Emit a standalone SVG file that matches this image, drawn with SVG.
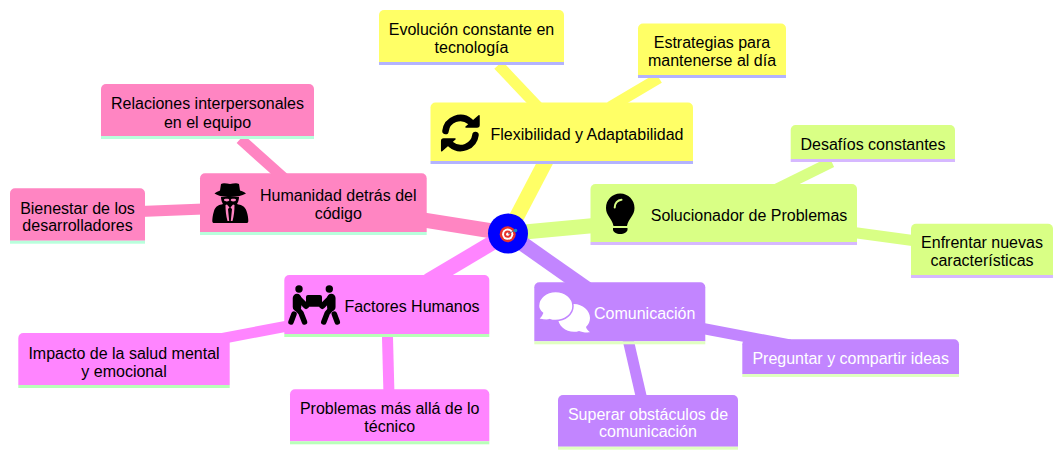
<svg xmlns="http://www.w3.org/2000/svg" width="1063" height="458" viewBox="0 0 1063 458">
<style>
text{font-family:"Liberation Sans",Arial,sans-serif;font-size:16px;text-anchor:middle;fill:#000}
.w text,text.w{fill:#fff}
.c line{stroke-linecap:butt;fill:none}
.m{stroke-width:15}.s{stroke-width:11}
.y{fill:#ffff66}.g{fill:#d9ff85}.p{fill:#ff85c2}.f{fill:#ff85ff}.v{fill:#c285ff}
.ys{stroke:#ffff66}.gs{stroke:#d9ff85}.ps{stroke:#ff85c2}.fs{stroke:#ff85ff}.vs{stroke:#c285ff}
.yl{fill:#b3b3ff}.gl{fill:#d6b8ff}.pl{fill:#b8ffdc}.fl{fill:#b8ffb8}.vl{fill:#e0ffc0}
</style>
<rect width="1063" height="458" fill="#fff"/>
<g id="connectors" class="c">
<line class="s ys" x1="498.3" y1="65" x2="540" y2="109"/>
<line class="s ys" x1="659" y1="78" x2="610" y2="107"/>
<line class="m ys" x1="508" y1="233.5" x2="548" y2="157"/>
<line class="m gs" x1="508" y1="233.5" x2="600" y2="225"/>
<line class="s gs" x1="831.7" y1="162" x2="777" y2="189"/>
<line class="s gs" x1="850" y1="232" x2="920" y2="241.5"/>
<line class="m ps" x1="508" y1="233.5" x2="415" y2="218.7"/>
<line class="s ps" x1="240.3" y1="139" x2="285" y2="179"/>
<line class="s ps" x1="140" y1="211.5" x2="210" y2="208.8"/>
<line class="m fs" x1="508" y1="233.5" x2="428" y2="281"/>
<line class="s fs" x1="220" y1="338.8" x2="295" y2="324.6"/>
<line class="s fs" x1="387.3" y1="330" x2="389" y2="395"/>
<line class="m vs" x1="508" y1="233.5" x2="587" y2="289"/>
<line class="s vs" x1="695" y1="327" x2="790" y2="345"/>
<line class="s vs" x1="627" y1="335" x2="642" y2="400"/>
</g>
<g id="flex">
<path class="y" d="M430.5 161V107.500a5 5 0 0 1 5-5H688a5 5 0 0 1 5 5V161z"/><rect class="yl" x="430.500" y="161" width="262.500" height="3"/>
<g fill="none" stroke="#000" stroke-width="6.500" stroke-linecap="round"><path d="M445.500 131A15 15 0 0 1 470 121.500"/><path d="M475.500 135A15 15 0 0 1 451 144.500"/></g>
<path d="M479 115.700V125a2 2 0 0 1-2 2H466z M441.700 150.700V141a2 2 0 0 1 2-2H455z" stroke="#000" stroke-width="1.500" stroke-linejoin="round"/>
<text x="587" y="140">Flexibilidad y Adaptabilidad</text>
</g>
<g id="evolucion">
<path class="y" d="M379 62V15a5 5 0 0 1 5-5H559a5 5 0 0 1 5 5V62z"/><rect class="yl" x="379" y="62" width="185" height="3"/>
<text x="471.500" y="35">Evolución constante en</text><text x="471.500" y="53">tecnología</text>
</g>
<g id="estrategias">
<path class="y" d="M638 75V28.500a5 5 0 0 1 5-5H781a5 5 0 0 1 5 5V75z"/><rect class="yl" x="638" y="75" width="148" height="3"/>
<text x="712" y="48">Estrategias para</text><text x="712" y="66">mantenerse al día</text>
</g>
<g id="solucionador">
<path class="g" d="M590.500 242V189a5 5 0 0 1 5-5H852a5 5 0 0 1 5 5V242z"/><rect class="gl" x="590.500" y="242" width="266.500" height="3"/>
<path d="M620.200 193.500C612 193.500 606 200 606 208C606 216 612 218 613.500 226H627C628.500 218 634.500 216 634.500 208C634.500 200 628.400 193.500 620.200 193.500Z"/>
<path d="M613 228H627.500V229.500C627.500 232 624 234 620.200 234C616.400 234 613 232 613 229.500Z"/>
<path d="M614.700 207.500C614.700 203.500 617.500 200 621.500 199.700" fill="none" stroke="#d9ff85" stroke-width="2" stroke-linecap="round"/>
<text x="749" y="221">Solucionador de Problemas</text>
</g>
<g id="desafios">
<path class="g" d="M790.700 159V130a5 5 0 0 1 5-5H950a5 5 0 0 1 5 5V159z"/><rect class="gl" x="790.700" y="159" width="164.300" height="3"/>
<text x="873" y="150">Desafíos constantes</text>
</g>
<g id="enfrentar">
<path class="g" d="M911 275V228.700a5 5 0 0 1 5-5H1048a5 5 0 0 1 5 5V275z"/><rect class="gl" x="911" y="275" width="142" height="3"/>
<text x="982" y="248">Enfrentar nuevas</text><text x="982" y="266">características</text>
</g>
<g id="humanidad">
<path class="p" d="M200 232V178.300a5 5 0 0 1 5-5H421.700a5 5 0 0 1 5 5V232z"/><rect class="pl" x="200" y="232" width="226.700" height="3"/>
<path d="M221 184C224 182.500 227 184 230 184C233 184 236 182.500 239 184L240 190.500C242 191 243.500 191.700 246 193.500C242 196 236 197 230 197C224 197 218 196 214.500 193.500C217 191.700 219 191 220 190.500Z"/>
<path d="M221 197H239C239 201 237 204 237 204C241 205 245 206 246.500 211C248 215 248.300 219 248.300 221C248.300 222.500 247.500 223 246.500 223H214C213 223 212.300 222.500 212.300 221C212.300 219 212.700 215 214 211C215.500 206 219 205 223 204C223 204 221 201 221 197Z"/>
<path class="p" d="M224 199.300C226 198.700 228 198.700 229 199.300L229.300 200.500C228 201.700 225 201.700 224.200 200.500ZM231 199.300C232 198.700 234 198.700 236 199.300L235.800 200.500C235 201.700 232 201.700 230.700 200.500Z"/>
<path class="p" d="M225.500 205L227 204.500L229.500 207.500L228 209L229.200 221H227.500C226 216 225.500 210 225.500 205ZM234.500 205L233 204.500L230.500 207.500L232 209L230.800 221H232.500C234 216 234.500 210 234.500 205Z"/>
<text x="338.300" y="201">Humanidad detrás del</text><text x="338.300" y="219">código</text>
</g>
<g id="relaciones">
<path class="p" d="M101 136V89a5 5 0 0 1 5-5H309a5 5 0 0 1 5 5V136z"/><rect class="pl" x="101" y="136" width="213" height="3"/>
<text x="207.500" y="109">Relaciones interpersonales</text><text x="207.500" y="127.500">en el equipo</text>
</g>
<g id="bienestar">
<path class="p" d="M10 240.700V193.300a5 5 0 0 1 5-5H140a5 5 0 0 1 5 5V240.700z"/><rect class="pl" x="10" y="240.700" width="135" height="3"/>
<text x="77.500" y="214">Bienestar de los</text><text x="77.500" y="231">desarrolladores</text>
</g>
<g id="factores">
<path class="f" d="M284.300 334V280a5 5 0 0 1 5-5H484.300a5 5 0 0 1 5 5V334z"/><rect class="fl" x="284.300" y="334" width="205" height="3"/>
<path d="M306 297a2 2 0 0 1 2-2H320a2 2 0 0 1 2 2V306.700H306z"/>
<circle cx="299" cy="289" r="3.700"/><circle cx="329.300" cy="289" r="3.700"/>
<g fill="none" stroke="#000" stroke-linecap="round" stroke-linejoin="round">
<path d="M297 298V307" stroke-width="8.500"/><path d="M298 298L306 306" stroke-width="6"/>
<path d="M296.500 308L301 313L304.500 322" stroke-width="5.500"/><path d="M294 314L291 322" stroke-width="5.500"/>
<path d="M331.300 298V307" stroke-width="8.500"/><path d="M330.300 298L322.300 306" stroke-width="6"/>
<path d="M331.800 308L327.300 313L323.800 322" stroke-width="5.500"/><path d="M334.300 314L337.300 322" stroke-width="5.500"/>
</g>
<text x="412" y="312">Factores Humanos</text>
</g>
<g id="impacto">
<path class="f" d="M18.300 385V338a5 5 0 0 1 5-5H224.700a5 5 0 0 1 5 5V385z"/><rect class="fl" x="18.300" y="385" width="211.400" height="3"/>
<text x="124" y="358.500">Impacto de la salud mental</text><text x="124" y="376.500">y emocional</text>
</g>
<g id="problemas">
<path class="f" d="M290 441.300V394.300a5 5 0 0 1 5-5H484.300a5 5 0 0 1 5 5V441.300z"/><rect class="fl" x="290" y="441.300" width="199.300" height="3"/>
<text x="389.700" y="414">Problemas más allá de lo</text><text x="389.700" y="432">técnico</text>
</g>
<g id="comunicacion" class="w">
<path class="v" d="M534.300 341.300V287.300a5 5 0 0 1 5-5H700.300a5 5 0 0 1 5 5V341.300z"/><rect class="vl" x="534.300" y="341.300" width="171" height="3"/>
<path fill="#fff" d="M574 304C582.500 304 590 310.500 590 318C590 321.500 588.500 324.500 586 327C586.500 329 588 330.500 590 332.300C585 332.800 581.500 331.700 579 330.900C577.500 331.400 575.800 331.800 574 331.800C565.500 331.800 558 325.500 558 318C558 310.500 565.500 304 574 304Z"/>
<path fill="#fff" stroke="#c285ff" stroke-width="1.500" d="M555.600 291.500C565 291.500 573 297.700 573 306C573 314.300 565 320.500 555.600 320.500C553.500 320.500 551.500 320.200 549.700 319.600C547 321 543 320 538.500 319C540.500 317 542 315 542.500 313C540 311 538.500 308.500 538.500 306C538.500 297.700 546.200 291.500 555.600 291.500Z"/>
<text x="644.700" y="319">Comunicación</text>
</g>
<g id="preguntar" class="w">
<path class="v" d="M742.300 374V344.300a5 5 0 0 1 5-5H954a5 5 0 0 1 5 5V374z"/><rect class="vl" x="742.300" y="374" width="216.700" height="3"/>
<text x="850.700" y="364">Preguntar y compartir ideas</text>
</g>
<g id="superar" class="w">
<path class="v" d="M558 446.700V400a5 5 0 0 1 5-5H733a5 5 0 0 1 5 5V446.700z"/><rect class="vl" x="558" y="446.700" width="180" height="3"/>
<text x="648" y="420">Superar obstáculos de</text><text x="648" y="437">comunicación</text>
</g>
<g id="center">
<circle cx="508" cy="233.500" r="20" fill="#0000ff"/>
<circle cx="507.700" cy="234.200" r="8" fill="#e8302c"/><circle cx="507.700" cy="234.200" r="5.600" fill="#fff"/><circle cx="507.700" cy="234.200" r="3.600" fill="#e8302c"/><circle cx="507.700" cy="234.200" r="1.600" fill="#fff"/>
<path d="M508 234L514.500 230.500" stroke="#6b6b8a" stroke-width="1"/><circle cx="515.500" cy="230.500" r="1.800" fill="#1a86c0"/>
</g>
</svg>
